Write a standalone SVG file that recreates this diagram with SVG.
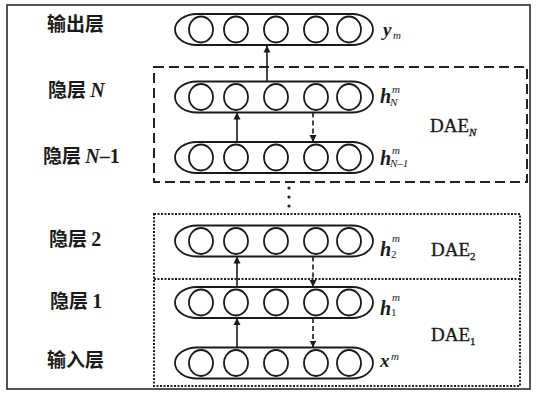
<svg xmlns="http://www.w3.org/2000/svg" width="536" height="394" viewBox="0 0 536 394">
<defs>
<style>
.frame{fill:#fff;stroke:#2a2a2a;stroke-width:1.6}
.layer{fill:none;stroke:#1a1a1a;stroke-width:1.8}
.unit{fill:none;stroke:#1a1a1a;stroke-width:1.8}
.dash{fill:none;stroke:#222;stroke-width:2;stroke-dasharray:10 5}
.dot{fill:none;stroke:#222;stroke-width:2;stroke-dasharray:2 1.5}
.up{stroke:#1a1a1a;stroke-width:1.6;fill:none;marker-end:url(#ah)}
.down{stroke:#1a1a1a;stroke-width:1.6;fill:none;stroke-dasharray:5 3;marker-end:url(#ah)}
.cn{font-family:"Noto Sans CJK SC","Liberation Serif",serif;font-size:19px;fill:#1a1a1a;font-weight:bold}
.ser{font-family:"Liberation Serif",serif;fill:#1a1a1a}
.dae{stroke:#1a1a1a;stroke-width:0.35}
.it{font-style:italic}
.bi{font-style:italic;font-weight:bold}
.b{font-weight:bold}
</style>
<marker id="ah" viewBox="0 0 10 10" refX="10" refY="5" markerWidth="7" markerHeight="9" markerUnits="userSpaceOnUse" orient="auto">
<path d="M0,0 L10,5 L0,10 Z" fill="#1a1a1a"/>
</marker>
<g id="units">
<path class="layer" d="M197,-15.5 H352 A21,15.5 0 0 1 352,15.5 H197 A22,15.5 0 0 1 197,-15.5 Z"/>
<ellipse class="unit" cx="201" cy="0" rx="12" ry="13"/>
<ellipse class="unit" cx="236" cy="0" rx="12" ry="13"/>
<ellipse class="unit" cx="276" cy="0" rx="12" ry="13"/>
<ellipse class="unit" cx="316" cy="0" rx="12" ry="13"/>
<ellipse class="unit" cx="349" cy="0" rx="12" ry="13"/>
</g>
</defs>
<rect class="frame" x="7" y="5" width="523" height="384"/>

<g id="boxes">
<rect class="dash" x="154" y="67" width="373" height="115"/>
<rect class="dot" x="154" y="214" width="366" height="172"/>
<line class="dot" x1="154" y1="279" x2="520" y2="279"/>
<circle cx="289" cy="188" r="1.6" fill="#222"/>
<circle cx="289" cy="197" r="1.6" fill="#222"/>
<circle cx="289" cy="206" r="1.6" fill="#222"/>
</g>

<g id="output-layer"><use href="#units" y="29.5"/><text class="cn" x="47" y="31">输出层</text>
<text class="ser bi" x="383" y="36" font-size="19">y</text><text class="ser it" x="393" y="39" font-size="11">m</text></g>

<g id="hidden-N"><use href="#units" y="97"/><text class="cn" x="48" y="97">隐层 <tspan class="ser bi" font-size="20">N</tspan></text>
<text class="ser bi" x="380" y="103" font-size="20">h</text><text class="ser it" x="392" y="93" font-size="11">m</text><text class="ser it" x="390" y="106" font-size="11">N</text></g>

<g id="hidden-N-1"><use href="#units" y="157.5"/><text class="cn" x="43" y="163">隐层 <tspan class="ser bi" font-size="20">N</tspan><tspan class="ser b" font-size="20">–1</tspan></text>
<text class="ser bi" x="380" y="165" font-size="20">h</text><text class="ser it" x="392" y="154" font-size="11">m</text><text class="ser it" x="390" y="167" font-size="11">N–1</text></g>

<g id="hidden-2"><use href="#units" y="241"/><text class="cn" x="49" y="246">隐层 <tspan class="ser b" font-size="20">2</tspan></text>
<text class="ser bi" x="380" y="256" font-size="20">h</text><text class="ser it" x="392" y="242" font-size="11">m</text><text class="ser" x="391" y="258" font-size="11">2</text></g>

<g id="hidden-1"><use href="#units" y="302.5"/><text class="cn" x="50" y="308">隐层 <tspan class="ser b" font-size="20">1</tspan></text>
<text class="ser bi" x="380" y="315" font-size="20">h</text><text class="ser it" x="392" y="301" font-size="11">m</text><text class="ser" x="391" y="316" font-size="11">1</text></g>

<g id="input-layer"><use href="#units" y="363"/><text class="cn" x="47" y="367">输入层</text>
<text class="ser bi" x="380" y="367" font-size="19">x</text><text class="ser it" x="391" y="360" font-size="11">m</text></g>

<g id="dae-labels">
<text class="ser dae" x="430" y="132" font-size="19">DAE<tspan class="it" font-size="11" dy="4">N</tspan></text>
<text class="ser dae" x="431" y="256" font-size="19">DAE<tspan font-size="11" dy="4">2</tspan></text>
<text class="ser dae" x="431" y="341" font-size="19">DAE<tspan font-size="11" dy="4">1</tspan></text>
</g>

<g id="connectors">
<line class="up" x1="267" y1="82" x2="267" y2="45.5"/>
<line class="up" x1="237" y1="142" x2="237" y2="112.5"/>
<line class="down" x1="313" y1="112.5" x2="313" y2="142"/>
<line class="up" x1="237" y1="287" x2="237" y2="256.5"/>
<line class="down" x1="313" y1="256.5" x2="313" y2="287"/>
<line class="up" x1="237" y1="347.5" x2="237" y2="318"/>
<line class="down" x1="313" y1="318" x2="313" y2="347.5"/>
</g>
</svg>
